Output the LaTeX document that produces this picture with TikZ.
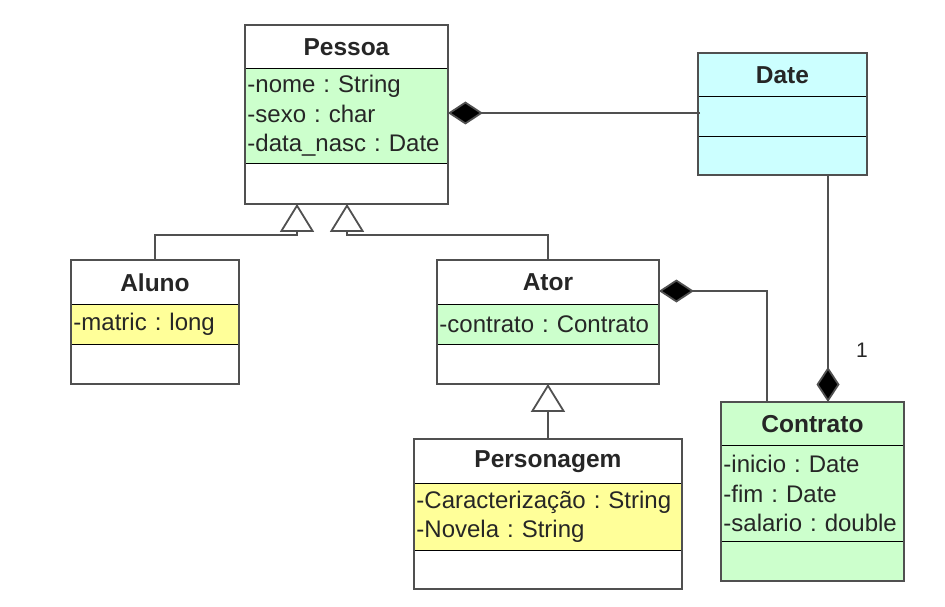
\documentclass[tikz,border=0pt]{standalone}
\usepackage{fontspec}
\setmainfont{Liberation Sans}
\usetikzlibrary{arrows.meta}
\definecolor{cgreen}{HTML}{CCFFCC}
\definecolor{ccyan}{HTML}{CCFFFF}
\definecolor{cyellow}{HTML}{FFFF99}
\definecolor{edgegray}{HTML}{505050}
\frenchspacing
\begin{document}
\begin{tikzpicture}[x=1pt,y=-1pt,
  sec/.style={draw=black, line width=0.9pt, inner sep=0pt, anchor=north west,
    font=\fontsize{24}{29.5}\selectfont\frenchspacing, text=black!85},
  ttl/.style={sec, font=\bfseries\fontsize{24.5}{29.5}\selectfont},
  attr/.style={sec, align=left, inner xsep=2pt},
  frame/.style={draw=edgegray, line width=1.8pt},
  link/.style={draw=edgegray, line width=1.8pt},
  comp/.style={link, -{Diamond[length=35pt,width=23pt,fill=black]}},
  gen/.style={link, -{Triangle[open,length=28pt,width=34pt,fill=white]}},
  lbl/.style={font=\fontsize{21}{24}\selectfont, text=black!85}
]
\useasboundingbox (0,0) rectangle (945,607);

% Pessoa
\node[ttl, fill=white, minimum width=202pt, minimum height=43pt] (pessoa) at (245,25) {Pessoa};
\node[attr, fill=cgreen, text width=198pt, minimum height=95pt] (pessoaA) at (245,68)
  {-nome : String\\-sexo : char\\-data\_nasc : Date};
\node[sec, fill=white, minimum width=202pt, minimum height=40pt] (pessoaO) at (245,163) {};
\draw[frame] (pessoa.north west) rectangle (pessoaO.south east);

% Date
\node[ttl, fill=ccyan, minimum width=168pt, minimum height=43pt] (date) at (698,53) {Date};
\node[sec, fill=ccyan, minimum width=168pt, minimum height=40pt] (dateA) at (698,96) {};
\node[sec, fill=ccyan, minimum width=168pt, minimum height=38pt] (dateO) at (698,136) {};
\draw[frame] (date.north west) rectangle (dateO.south east);

% Aluno
\node[ttl, fill=white, minimum width=167pt, minimum height=44pt] (aluno) at (71,260) {Aluno};
\node[attr, fill=cyellow, text width=163pt, minimum height=40pt] (alunoA) at (71,304) {-matric : long};
\node[sec, fill=white, minimum width=167pt, minimum height=39pt] (alunoO) at (71,344) {};
\draw[frame] (aluno.north west) rectangle (alunoO.south east);

% Ator
\node[ttl, fill=white, minimum width=221pt, minimum height=44pt] (ator) at (437,260) {Ator};
\node[attr, fill=cgreen, text width=217pt, minimum height=40pt] (atorA) at (437,304) {-contrato : Contrato};
\node[sec, fill=white, minimum width=221pt, minimum height=39pt] (atorO) at (437,344) {};
\draw[frame] (ator.north west) rectangle (atorO.south east);

% Personagem
\node[ttl, fill=white, minimum width=267pt, minimum height=44pt] (personagem) at (414,439) {Personagem};
\node[attr, fill=cyellow, text width=263pt, minimum height=67pt] (personagemA) at (414,483)
  {-Caracteriza\c{c}\~ao : String\\-Novela : String};
\node[sec, fill=white, minimum width=267pt, minimum height=38pt] (personagemO) at (414,550) {};
\draw[frame] (personagem.north west) rectangle (personagemO.south east);

% Contrato
\node[ttl, fill=cgreen, minimum width=182pt, minimum height=43pt] (contrato) at (721,402) {Contrato};
\node[attr, fill=cgreen, text width=178pt, minimum height=96pt] (contratoA) at (721,445)
  {-inicio : Date\\-fim : Date\\-salario : double};
\node[sec, fill=cgreen, minimum width=182pt, minimum height=39pt] (contratoO) at (721,541) {};
\draw[frame] (contrato.north west) rectangle (contratoO.south east);

% connectors
\coordinate (pd) at (700,113);
\draw[comp] (pd) -- (pd -| pessoaA.east);

\coordinate (dc) at (828,174);
\draw[comp] (dc) -- (dc |- contrato.north);
\node[lbl] (one) at (862,350) {1};

\coordinate (ac) at (767,291);
\draw[comp] (ac |- contrato.north) |- (ac -| ator.east);

\coordinate (g1) at (297,235);
\coordinate (g2) at (347,235);
\draw[gen] (aluno.north) |- (g1) -- (g1 |- pessoaO.south);
\draw[gen] (ator.north) |- (g2) -- (g2 |- pessoaO.south);
\draw[gen] (personagem.north) -- (atorO.south);
\end{tikzpicture}
\end{document}
